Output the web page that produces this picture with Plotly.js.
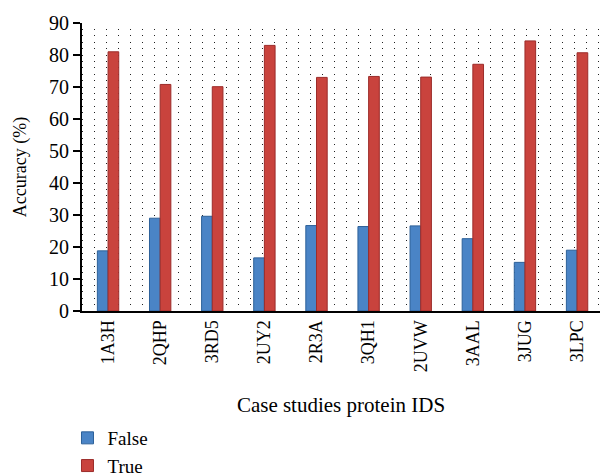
<!DOCTYPE html>
<html>
<head>
<meta charset="utf-8">
<script src="https://cdn.plot.ly/plotly-3.0.1.min.js"></script>
<style>html,body{margin:0;padding:0;overflow:hidden;background:#fff}</style>
</head>
<body>
<div id="chart" style="width:600px;height:476px"></div>
<script>
const categories = ["1A3H","2QHP","3RD5","2UY2","2R3A","3QH1","2UVW","3AAL","3JUG","3LPC"];
const falseValues = [18.8, 29.0, 29.6, 16.6, 26.7, 26.4, 26.6, 22.6, 15.2, 19.0];
const trueValues  = [81.0, 70.8, 70.1, 83.0, 73.0, 73.3, 73.1, 77.1, 84.4, 80.7];
const yTicks = [0,10,20,30,40,50,60,70,80,90];

const serif = "Liberation Serif, Times New Roman, serif";

const traces = [
  {
    type: "bar", name: "False", x: categories, y: falseValues, legendgroup: "f",
    marker: {color: "#4a84c6", line: {color: "#2d6199", width: 1}}
  },
  {
    type: "bar", name: "True", x: categories, y: trueValues, legendgroup: "t",
    marker: {color: "#c9433d", line: {color: "#9c2c2a", width: 1}}
  }
];

const layout = {
  width: 600, height: 476,
  margin: {l: 82, r: 0, t: 23, b: 165, autoexpand: false},
  paper_bgcolor: "#fff", plot_bgcolor: "#fff",
  font: {family: serif, size: 18, color: "#000"},
  barmode: "group", bargap: 0.59, bargroupgap: 0,
  showlegend: true,
  legend: {
    orientation: "v", x: -0.028, xanchor: "left", y: -0.375, yanchor: "top",
    traceorder: "grouped", font: {family: serif, size: 19, color: "#000"},
    itemwidth: 30, tracegroupgap: 0
  },
  xaxis: {
    type: "category", range: [-0.5, 9.44], automargin: false,
    showline: true, linecolor: "#000", linewidth: 2,
    ticks: "", tickangle: -90, showgrid: false, zeroline: false,
    tickfont: {family: serif, size: 18, color: "#000"},
    title: {text: "Case studies protein IDS", font: {family: serif, size: 21, color: "#000"}, standoff: 26}
  },
  yaxis: {
    range: [0, 90], tickvals: yTicks, ticktext: yTicks.map(String), automargin: false,
    showline: true, linecolor: "#000", linewidth: 2,
    ticks: "outside", ticklen: 7, tickwidth: 2, tickcolor: "#000",
    showgrid: true, gridcolor: "#222", gridwidth: 1, griddash: "1px,11px",
    zeroline: false,
    minor: {dtick: 2, showgrid: true, gridcolor: "#222", gridwidth: 1, griddash: "1px,11px", ticks: ""},
    tickfont: {family: serif, size: 20, color: "#000"},
    title: {text: "Accuracy (%)", font: {family: serif, size: 18, color: "#000"}, standoff: 18}
  }
};

Plotly.newPlot("chart", traces, layout, {displayModeBar: false, staticPlot: true});
</script>
</body>
</html>
